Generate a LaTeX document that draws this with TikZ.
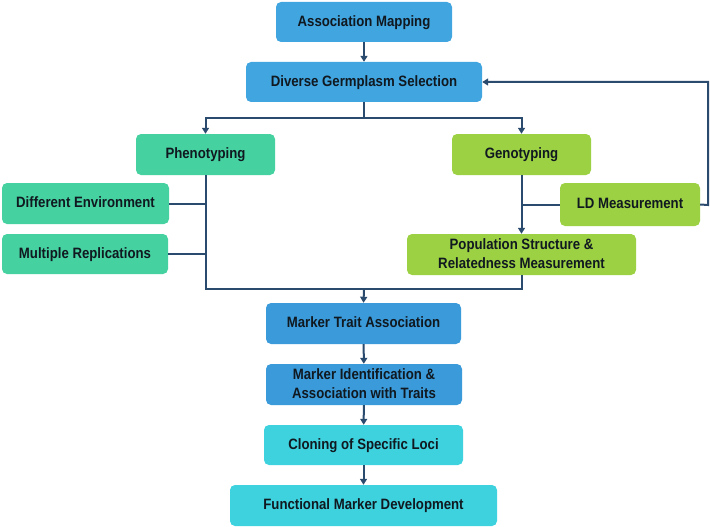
\documentclass[tikz,border=0pt]{standalone}
\usepackage{fontspec}
\setmainfont[FakeStretch=0.88]{Liberation Sans}
\usetikzlibrary{arrows.meta}
\definecolor{cblue}{HTML}{41A5E0}
\definecolor{cblueb}{HTML}{3B9BDA}
\definecolor{cteal}{HTML}{45D1A0}
\definecolor{clime}{HTML}{9CD143}
\definecolor{ccyan}{HTML}{3DD2DE}
\definecolor{cline}{HTML}{2A4A6E}
\definecolor{ctext}{HTML}{101820}
\begin{document}
\begin{tikzpicture}[x=1pt,y=-1pt,
  box/.style={rounded corners=5pt,inner sep=0pt,align=center,font=\bfseries\fontsize{15}{19}\selectfont,text=ctext,text depth=2pt},
  conn/.style={draw=cline,line width=2pt},
  arr/.style={conn,-{Triangle[length=6pt,width=7pt]}}]
\useasboundingbox (0,0) rectangle (710,527);
\node[box,fill=cblue,minimum width=176pt,minimum height=40pt] (am) at (364,22) {Association Mapping};
\node[box,fill=cblue,minimum width=236pt,minimum height=40pt] (dg) at (364,82) {Diverse Germplasm Selection};
\node[box,fill=cteal,minimum width=139pt,minimum height=41pt] (ph) at (205.5,154.5) {Phenotyping};
\node[box,fill=clime,minimum width=139pt,minimum height=41pt] (ge) at (521.5,154.5) {Genotyping};
\node[box,fill=cteal,minimum width=167pt,minimum height=41pt] (de) at (85.5,203.5) {Different Environment};
\node[box,fill=clime,minimum width=140pt,minimum height=43pt] (ld) at (630,204.5) {LD Measurement};
\node[box,fill=cteal,minimum width=166pt,minimum height=40pt] (mr) at (85,254) {Multiple Replications};
\node[box,fill=clime,minimum width=229pt,minimum height=41pt] (ps) at (521.5,254.5) {Population Structure \&\\Relatedness Measurement};
\node[box,fill=cblueb,minimum width=195pt,minimum height=41pt] (mt) at (363.5,323.5) {Marker Trait Association};
\node[box,fill=cblueb,minimum width=196pt,minimum height=41pt] (mi) at (364,384.5) {Marker Identification \&\\Association with Traits};
\node[box,fill=ccyan,minimum width=199pt,minimum height=40pt] (cl) at (363.5,445) {Cloning of Specific Loci};
\node[box,fill=ccyan,minimum width=267pt,minimum height=41pt] (fm) at (363.5,505.5) {Functional Marker Development};
\coordinate (j1) at (364,118);
\coordinate (j2) at (364,289);
\coordinate (fb) at (708,205);
\draw[arr] (am) -- (dg);
\draw[conn] (dg.south) -- (j1);
\draw[arr] (j1) -| (ph.north);
\draw[arr] (j1) -| (ge.north);
\draw[conn] (ph.south) |- (j2);
\draw[conn] (ps.south) |- (j2);
\draw[conn] (de.east) -- (de.east -| ph.south);
\draw[conn] (mr.east) -- (mr.east -| ph.south);
\draw[arr] (ge.south) -- (ps.north);
\draw[conn] (ld.west) -- (ld.west -| ge.south);
\draw[arr] (ld.east) -- (fb) |- (dg.east);
\draw[arr] (j2) -- (mt.north);
\draw[arr] (mt) -- (mi);
\draw[arr] (mi) -- (cl);
\draw[arr] (cl) -- (fm);
\end{tikzpicture}
\end{document}
